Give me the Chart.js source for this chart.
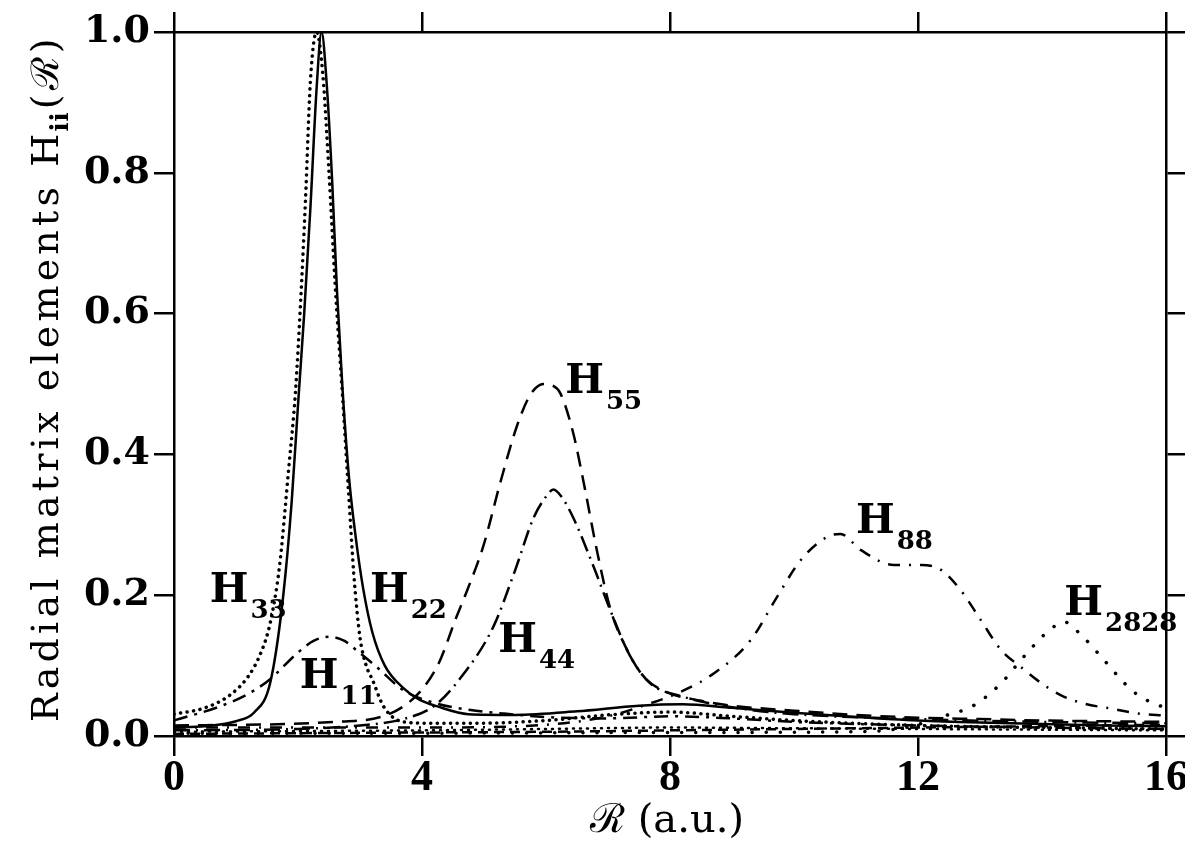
<!DOCTYPE html>
<html lang="en">
<head>
  <meta charset="UTF-8">
  <title>Radial matrix elements</title>
  <script src="https://cdn.jsdelivr.net/npm/chart.js"></script>
  <style>
    body { margin: 0; background: #fff; }
    canvas { display: block; }
  </style>
</head>
<body>
  <canvas id="chart" width="1185" height="842"></canvas>

  <script>
    // R values (a.u.) and H_ii values
    const r22 = [0, 0.5, 1.0, 1.3, 1.55, 1.75, 1.9, 2.0, 2.1, 2.2, 2.3, 2.38, 2.46, 2.55, 2.63, 2.72, 2.82, 2.92, 3.05, 3.2, 3.4, 3.7, 3.95, 4.25, 4.75, 5.5, 6.5, 7.5, 8.2, 9, 10, 11, 12, 13, 14, 15, 16];
    const h22 = [0.012, 0.014, 0.021, 0.034, 0.075, 0.19, 0.335, 0.47, 0.6, 0.75, 0.92, 1.0, 0.93, 0.79, 0.63, 0.49, 0.37, 0.29, 0.21, 0.147, 0.1, 0.068, 0.052, 0.042, 0.031, 0.03, 0.035, 0.043, 0.045, 0.04, 0.033, 0.027, 0.022, 0.019, 0.017, 0.015, 0.014];

    const r33 = [0, 0.5, 0.9, 1.2, 1.4, 1.55, 1.7, 1.85, 1.96, 2.05, 2.12, 2.2, 2.3, 2.4, 2.5, 2.6, 2.72, 2.82, 2.9, 3.0, 3.1, 3.2, 3.38, 3.7, 4.2, 4.8, 6, 7, 8, 9, 10, 12, 14, 16];
    const h33 = [0.031, 0.04, 0.058, 0.085, 0.118, 0.16, 0.24, 0.38, 0.49, 0.63, 0.76, 0.93, 1.0, 0.94, 0.8, 0.64, 0.48, 0.34, 0.23, 0.14, 0.1, 0.08, 0.042, 0.02, 0.018, 0.018, 0.022, 0.03, 0.034, 0.028, 0.022, 0.015, 0.012, 0.01];

    const r11 = [0, 0.74, 1.2, 1.54, 1.98, 2.25, 2.51, 2.75, 2.94, 3.27, 3.7, 4.24, 4.78, 5.3, 6, 7, 8, 9, 10, 12, 14, 16];
    const h11 = [0.022, 0.042, 0.06, 0.08, 0.117, 0.135, 0.141, 0.135, 0.122, 0.098, 0.065, 0.046, 0.037, 0.032, 0.027, 0.025, 0.028, 0.025, 0.02, 0.015, 0.012, 0.01];

    const r44 = [0, 2, 3, 3.7, 4.2, 4.6, 5.15, 5.5, 5.8, 6.0, 6.12, 6.25, 6.44, 6.77, 7.04, 7.36, 7.68, 8.2, 9.3, 10, 12, 14, 16];
    const h44 = [0.008, 0.01, 0.015, 0.024, 0.043, 0.08, 0.155, 0.235, 0.31, 0.34, 0.35, 0.34, 0.31, 0.24, 0.178, 0.113, 0.075, 0.056, 0.037, 0.031, 0.024, 0.02, 0.018];

    const r55 = [0, 2.6, 3.7, 4.24, 4.56, 4.72, 4.99, 5.26, 5.53, 5.75, 5.96, 6.1, 6.23, 6.44, 6.61, 6.82, 7.04, 7.31, 7.58, 7.9, 8.5, 9, 10, 11, 12, 13, 14, 15, 16];
    const h55 = [0.015, 0.02, 0.042, 0.098, 0.17, 0.205, 0.27, 0.359, 0.44, 0.485, 0.5, 0.498, 0.487, 0.43, 0.359, 0.264, 0.18, 0.122, 0.084, 0.064, 0.05, 0.043, 0.036, 0.03, 0.026, 0.024, 0.022, 0.021, 0.02];

    const r88 = [0, 4, 6, 7, 7.6, 8.1, 8.71, 9.3, 9.73, 10.11, 10.54, 10.75, 11.08, 11.61, 12.05, 12.37, 12.69, 13.01, 13.34, 13.66, 13.99, 14.3, 14.68, 15.11, 15.55, 16];
    const h88 = [0.012, 0.012, 0.016, 0.028, 0.044, 0.06, 0.089, 0.136, 0.198, 0.25, 0.283, 0.287, 0.264, 0.243, 0.243, 0.236, 0.207, 0.165, 0.122, 0.098, 0.075, 0.058, 0.046, 0.039, 0.032, 0.029];

    const r2828 = [0, 4, 8, 11, 11.8, 12.37, 12.91, 13.34, 13.71, 14.09, 14.36, 14.58, 14.95, 15.33, 15.55, 15.81, 16];
    const h2828 = [0.004, 0.004, 0.005, 0.006, 0.012, 0.027, 0.044, 0.075, 0.113, 0.148, 0.162, 0.148, 0.113, 0.075, 0.058, 0.046, 0.04];

    // the crowded bundle near zero (higher channels, unlabeled)
    const rLow = [0, 2, 4, 6, 8, 10, 12, 14, 16];
    const hLowA = [0.006, 0.007, 0.008, 0.01, 0.012, 0.011, 0.01, 0.009, 0.008];
    const hLowB = [0.003, 0.004, 0.005, 0.006, 0.008, 0.01, 0.012, 0.014, 0.016];

    const xTicks = [0, 4, 8, 12, 16];
    const yTicks = [0, 0.2, 0.4, 0.6, 0.8, 1.0];

    // curve labels: main text, subscript, anchor (R, H)
    const curveLabels = [
      { txt: 'H', sub: '33', r: 0.575, h: 0.19 },
      { txt: 'H', sub: '22', r: 3.16, h: 0.19 },
      { txt: 'H', sub: '11', r: 2.03, h: 0.068 },
      { txt: 'H', sub: '44', r: 5.23, h: 0.119 },
      { txt: 'H', sub: '55', r: 6.31, h: 0.487 },
      { txt: 'H', sub: '88', r: 11.0, h: 0.288 },
      { txt: 'H', sub: '2828', r: 14.36, h: 0.172 }
    ];

    function pts(rs, hs) {
      return rs.map((r, i) => ({ x: r, y: hs[i] }));
    }

    function line(rs, hs, dash, width, cap) {
      return {
        data: pts(rs, hs),
        borderColor: '#000',
        borderWidth: width || 2.5,
        borderDash: dash || [],
        borderCapStyle: cap || 'butt',
        pointRadius: 0,
        fill: false,
        cubicInterpolationMode: 'monotone'
      };
    }

    // draws a run of text one char at a time with extra spacing, returns the end x
    function spaced(ctx, s, x, y, gap) {
      for (const ch of s) {
        ctx.fillText(ch, x, y);
        x += ctx.measureText(ch).width + gap;
      }
      return x;
    }
    function spacedWidth(ctx, s, gap) {
      let w = 0;
      for (const ch of s) w += ctx.measureText(ch).width + gap;
      return w;
    }

    const textPlugin = {
      id: 'textPlugin',
      afterDraw(chart) {
        const ctx = chart.ctx;
        const xs = chart.scales.x, ys = chart.scales.y;
        ctx.save();
        ctx.fillStyle = '#000';
        ctx.textBaseline = 'alphabetic';
        ctx.textAlign = 'left';

        // curve labels
        curveLabels.forEach(l => {
          const px = xs.getPixelForValue(l.r);
          const py = ys.getPixelForValue(l.h);
          ctx.font = 'bold 41px "DejaVu Serif"';
          ctx.fillText(l.txt, px, py);
          const w = ctx.measureText(l.txt).width;
          ctx.font = 'bold 26px "DejaVu Serif"';
          ctx.fillText(l.sub, px + w + 2, py + 16);
        });

        // x title
        ctx.font = '40px "DejaVu Serif"';
        ctx.textAlign = 'center';
        ctx.fillText('\u211B (a.u.)', (chart.chartArea.left + chart.chartArea.right) / 2 - 3, 832);

        // y title, rotated, with subscript ii, stretched to the reference length
        const a = 'Radial matrix elements H', b = 'ii', c = '(\u211B)';
        const target = 692;
        ctx.font = '38px "DejaVu Serif"';
        const n = [...a].length + [...c].length;
        const plain = spacedWidth(ctx, a, 0) + spacedWidth(ctx, c, 0);
        ctx.font = 'bold 24px "DejaVu Serif"';
        const wb = spacedWidth(ctx, b, 1);
        const gap = Math.max(0, (target - plain - wb - 4) / n);
        ctx.translate(58, 376);
        ctx.rotate(-Math.PI / 2);
        ctx.textAlign = 'left';
        let x0 = -target / 2;
        ctx.font = '38px "DejaVu Serif"';
        x0 = spaced(ctx, a, x0, 0, gap);
        ctx.font = 'bold 24px "DejaVu Serif"';
        x0 = spaced(ctx, b, x0 - gap + 2, 10, 1);
        ctx.font = '38px "DejaVu Serif"';
        spaced(ctx, c, x0 + 2, 0, gap);
        ctx.restore();
      }
    };

    const gridOpts = { drawOnChartArea: false, drawTicks: true, tickLength: 20, color: '#000', lineWidth: 2.5 };
    const borderOpts = { display: true, color: '#000', width: 2.5 };

    new Chart(document.getElementById('chart'), {
      type: 'line',
      data: {
        datasets: [
          line(rLow, hLowA, [1, 6], 2.5, 'round'),
          line(rLow, hLowB, [10, 6]),
          line(r2828, h2828, [0.1, 14], 3.5, 'round'),
          line(r88, h88, [12, 9, 2, 9]),
          line(r55, h55, [15, 9]),
          line(r44, h44, [16, 6, 2, 6]),
          line(r11, h11, [14, 7, 3, 7]),
          line(r33, h33, [0.1, 6.5], 3.5, 'round'),
          line(r22, h22, [], 2.5)
        ]
      },
      options: {
        responsive: false,
        devicePixelRatio: 1,
        animation: false,
        layout: { padding: 0 },
        plugins: { legend: { display: false }, tooltip: { enabled: false }, title: { display: false } },
        scales: {
          x: {
            type: 'linear', position: 'bottom', min: 0, max: 16,
            afterBuildTicks: s => { s.ticks = xTicks.map(v => ({ value: v })); },
            afterFit: s => { s.height = 106; },
            grid: gridOpts, border: borderOpts,
            ticks: { color: '#000', padding: -4, maxRotation: 0, font: { family: 'Liberation Serif', weight: 'bold', size: 44 } }
          },
          x2: {
            type: 'linear', position: 'top', min: 0, max: 16, display: true,
            afterBuildTicks: s => { s.ticks = xTicks.map(v => ({ value: v })); },
            afterFit: s => { s.height = 32; },
            grid: gridOpts, border: borderOpts,
            ticks: { display: false }
          },
          y: {
            type: 'linear', position: 'left', min: 0, max: 1,
            afterBuildTicks: s => { s.ticks = yTicks.map(v => ({ value: v })); },
            afterFit: s => { s.width = 174; },
            grid: gridOpts, border: borderOpts,
            ticks: { color: '#000', padding: 4, callback: v => v.toFixed(1), font: { family: 'DejaVu Serif', weight: 'bold', size: 38 } }
          },
          y2: {
            type: 'linear', position: 'right', min: 0, max: 1, display: true,
            afterBuildTicks: s => { s.ticks = yTicks.map(v => ({ value: v })); },
            afterFit: s => { s.width = 19; },
            grid: gridOpts, border: borderOpts,
            ticks: { display: false }
          }
        }
      },
      plugins: [textPlugin]
    });
  </script>
</body>
</html>
